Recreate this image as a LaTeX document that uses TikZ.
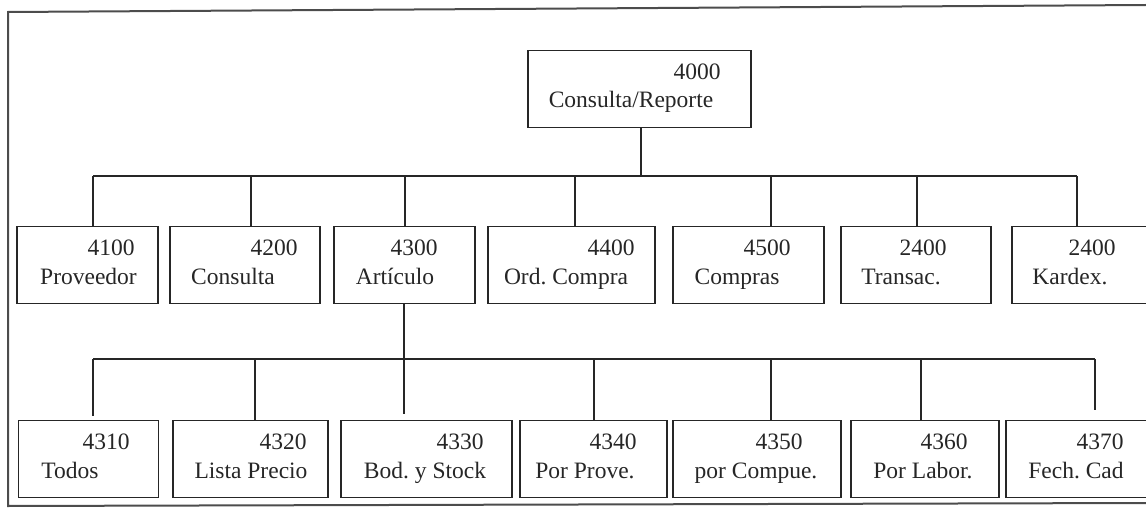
\documentclass[tikz,border=0pt]{standalone}
\usepackage{fontspec}
\setmainfont{Liberation Serif}
\begin{document}
\frenchspacing
\begin{tikzpicture}[x=1pt,y=-1pt,
  box/.style={draw=black!85, line width=1.3pt, inner sep=0pt, rectangle},
  txt/.style={inner sep=0pt, text=black!85, font=\fontsize{23.5}{27}\selectfont, anchor=mid},
  link/.style={draw=black!85, line width=1.2pt},
  frame/.style={draw=black!70, line width=2pt}]
\useasboundingbox (0,0) rectangle (1146,508);
\clip (0,0) rectangle (1146,508);
% outer frame
\coordinate (fTL) at (8,12);
\coordinate (fTR) at (1146,5);
\coordinate (fBL) at (8,506);
\coordinate (fBR) at (1146,503);
\draw[frame] (fTR) -- (fTL) -- (fBL) -- (fBR);

% top box
\node[box, minimum width=223pt, minimum height=77pt] (b4000) at (639.5,89) {};
\node[txt] (n4000) at (697,77) {4000};
\node[txt] (l4000) at (631,105) {Consulta/Reporte};

% row 1
\foreach \nm/\cx/\w/\nx/\lx/\num/\lab in {
  4100/87.5/141/111/88.5/4100/Proveedor,
  4200/245/150/274/233/4200/Consulta,
  4300/404.5/141/414/395/4300/Artículo,
  4400/571.5/167/611/566/4400/Ord. Compra,
  4500/748.5/151/767/737/4500/Compras,
  t2400/916/150/923/901/2400/Transac.,
  k2400/1082/140/1092/1070/2400/Kardex.}{
  \node[box, minimum width=\w pt, minimum height=77pt] (b\nm) at (\cx,265) {};
  \node[txt] (n\nm) at (\nx,253) {\num};
  \node[txt] (l\nm) at (\lx,282) {\lab};
}

% row 2
\foreach \nm/\cx/\w/\nx/\lx/\lab in {
  4310/88.5/140/106/70/Todos,
  4320/250.5/155/283/251/Lista Precio,
  4330/426.5/171/460/425/Bod. y Stock,
  4340/593.5/147/613/585/Por Prove.,
  4350/757/168/779/756/por Compue.,
  4360/925/148/944/923/Por Labor.,
  4370/1079/146/1100/1076/Fech. Cad}{
  \node[box, minimum width=\w pt, minimum height=77pt] (b\nm) at (\cx,459) {};
  \node[txt] (n\nm) at (\nx,447) {\nm};
  \node[txt] (l\nm) at (\lx,476) {\lab};
}

% level 1 connectors
\coordinate (j0) at (641,176);
\coordinate (busAL) at (93,176);
\coordinate (busAR) at (1077,176);
\draw[link] (b4000.south -| j0) -- (j0);
\draw[link] (busAL) -- (busAR);
\foreach \nm/\x in {4100/93, 4200/251, 4300/405, 4400/575, 4500/771, t2400/917, k2400/1077}{
  \coordinate (d\nm) at (\x,176);
  \draw[link] (d\nm) -- (d\nm |- b\nm.north);
}

% level 2 connectors
\coordinate (j3) at (404,359);
\coordinate (busBL) at (93,359);
\coordinate (busBR) at (1095,359);
\coordinate (e4330) at (404,414);
\coordinate (e4310) at (93,416);
\coordinate (e4370) at (1095,410);
\draw[link] (b4300.south -| j3) -- (e4330);
\draw[link] (busBL) -- (busBR);
\draw[link] (busBL) -- (e4310);
\draw[link] (busBR) -- (e4370);
\foreach \nm/\x in {4320/255, 4340/594, 4350/771, 4360/921}{
  \coordinate (d\nm) at (\x,359);
  \draw[link] (d\nm) -- (d\nm |- b\nm.north);
}
\end{tikzpicture}
\end{document}
